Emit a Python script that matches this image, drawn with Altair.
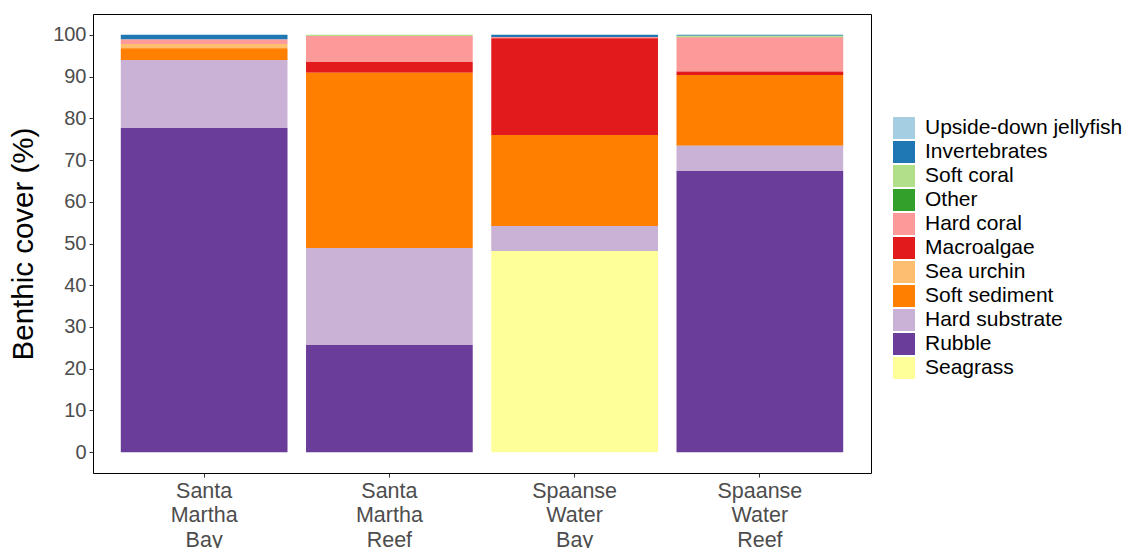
import altair as alt
import pandas as pd

sites = ["Santa Martha Bay", "Santa Martha Reef", "Spaanse Water Bay", "Spaanse Water Reef"]
categories = ["Upside-down jellyfish", "Invertebrates", "Soft coral", "Other", "Hard coral",
              "Macroalgae", "Sea urchin", "Soft sediment", "Hard substrate", "Rubble", "Seagrass"]
colors = ["#A6CEE3", "#1F78B4", "#B2DF8A", "#33A02C", "#FB9A99",
          "#E31A1C", "#FDBF6F", "#FF7F00", "#CAB2D6", "#6A3D9A", "#FFFF99"]

# values per category, in the order of `sites`
jellyfish      = [0.0, 0.0, 0.0, 0.0]
invertebrates  = [1.1, 0.0, 0.5, 0.2]
soft_coral     = [0.0, 0.3, 0.0, 0.3]
other          = [0.0, 0.0, 0.0, 0.1]
hard_coral     = [1.1, 6.2, 0.3, 8.2]
macroalgae     = [0.0, 2.6, 23.2, 0.8]
sea_urchin     = [1.0, 0.0, 0.0, 0.0]
soft_sediment  = [2.8, 42.0, 21.8, 17.0]
hard_substrate = [16.3, 23.2, 6.0, 6.0]
rubble         = [77.7, 25.7, 0.0, 67.4]
seagrass       = [0.0, 0.0, 48.2, 0.0]

series = [jellyfish, invertebrates, soft_coral, other, hard_coral, macroalgae,
          sea_urchin, soft_sediment, hard_substrate, rubble, seagrass]

rows = []
for ci, (cat, vals) in enumerate(zip(categories, series)):
    for s, v in zip(sites, vals):
        rows.append({"site": s, "category": cat, "value": v, "ord": len(categories) - ci})
df = pd.DataFrame(rows)

FONT = "Liberation Sans"

chart = alt.Chart(df).mark_bar(strokeWidth=0).encode(
    x=alt.X("site:N", sort=sites, title=None,
            scale=alt.Scale(paddingInner=0.1, paddingOuter=0.15),
            axis=alt.Axis(labelExpr="split(datum.label, ' ')", labelAngle=0,
                          labelFontSize=21.5, labelColor="#4d4d4d", labelLineHeight=24.5,
                          labelPadding=3, tickColor="#333333", tickSize=4,
                          domain=False, labelFont=FONT, labelBaseline="top")),
    y=alt.Y("value:Q", stack="zero", title="Benthic cover (%)",
            scale=alt.Scale(domain=[-5, 105], nice=False, zero=False),
            axis=alt.Axis(values=list(range(0, 101, 10)), grid=False, labelFontSize=20,
                          labelColor="#4d4d4d", tickColor="#333333", tickSize=4,
                          labelPadding=3, domain=False, titleFontSize=29.5,
                          titleFontWeight="normal", titleColor="black",
                          titlePadding=14, labelFont=FONT, titleFont=FONT)),
    color=alt.Color("category:N", sort=categories,
                    scale=alt.Scale(domain=categories, range=colors),
                    legend=alt.Legend(title=None, orient="none", legendX=800, legendY=103,
                                      symbolType="square", symbolSize=484,
                                      symbolStrokeWidth=0, labelFontSize=21,
                                      labelColor="black", labelFont=FONT,
                                      labelOffset=10, rowPadding=2, labelLimit=300)),
    order=alt.Order("ord:Q", sort="ascending"),
).properties(
    width=778, height=459,
    autosize=alt.AutoSizeParams(type="none"),
    padding={"left": 93, "top": 14, "right": 256, "bottom": 75},
).configure_view(
    stroke="black", strokeWidth=1
)

chart.save("out.html", embed_options={"renderer": "svg", "actions": False})
